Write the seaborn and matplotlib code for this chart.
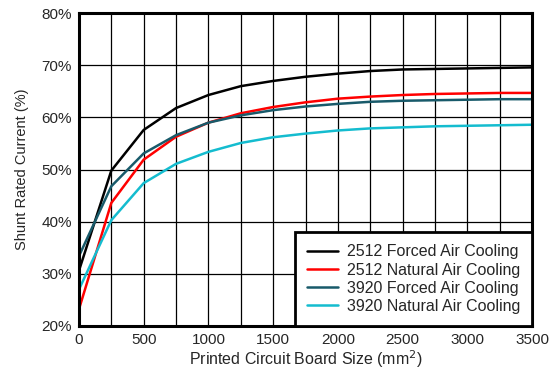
import matplotlib
matplotlib.use("Agg")
import matplotlib.pyplot as plt
import numpy as np
import pandas as pd
import seaborn as sns

# board size (mm^2)
board_size = [0, 250, 500, 750, 1000, 1250, 1500, 1750, 2000, 2250, 2500, 2750, 3000, 3250, 3500]

forced_2512 = [30.6, 49.8, 57.6, 61.8, 64.3, 66.0, 67.0, 67.8, 68.4, 68.9, 69.2, 69.3, 69.4, 69.5, 69.6]
natural_2512 = [23.2, 43.6, 51.9, 56.3, 59.0, 60.8, 62.0, 62.9, 63.6, 64.0, 64.3, 64.5, 64.6, 64.7, 64.7]
forced_3920 = [33.4, 46.8, 53.1, 56.6, 59.0, 60.4, 61.4, 62.1, 62.6, 63.0, 63.2, 63.3, 63.4, 63.5, 63.5]
natural_3920 = [27.0, 40.3, 47.4, 51.1, 53.4, 55.1, 56.2, 56.9, 57.5, 57.9, 58.1, 58.3, 58.4, 58.5, 58.6]

labels = ["2512 Forced Air Cooling", "2512 Natural Air Cooling",
          "3920 Forced Air Cooling", "3920 Natural Air Cooling"]
colors = ["#000000", "#FF0000", "#185A6A", "#14BCCF"]

frames = []
for lab, vals in zip(labels, [forced_2512, natural_2512, forced_3920, natural_3920]):
    frames.append(pd.DataFrame({"size": board_size, "current": vals, "series": lab}))
df = pd.concat(frames, ignore_index=True)

sns.set_style("white")
plt.rcParams["font.family"] = ["Liberation Sans", "DejaVu Sans"]

fig = plt.figure(figsize=(5.52, 3.76), dpi=100)
ax = fig.add_axes([0.143, 0.133, 0.821, 0.832])

# grid first so lines go on top
for xv in np.arange(250, 3500, 250):
    ax.axvline(xv, color="black", lw=0.9, zorder=1)
for yv in np.arange(30, 80, 10):
    ax.axhline(yv, color="black", lw=0.9, zorder=1)

sns.lineplot(data=df, x="size", y="current", hue="series", hue_order=labels,
             palette=colors, linewidth=1.8, ax=ax, zorder=3)

ax.set_xlim(0, 3500)
ax.set_ylim(20, 80)
ax.set_xticks(np.arange(0, 3501, 500))
ax.set_yticks(np.arange(20, 81, 10))
ax.set_yticklabels([f"{v}%" for v in range(20, 81, 10)])
ax.tick_params(axis="both", labelsize=11, length=0, pad=5)
ax.set_xlabel("Printed Circuit Board Size (mm$^2$)", fontsize=11.5, labelpad=1)
ax.set_ylabel("Shunt Rated Current (%)", fontsize=10.5, labelpad=9)

for sp in ax.spines.values():
    sp.set_color("black")
    sp.set_linewidth(2.2)
    sp.set_zorder(5)

leg = ax.legend(loc="lower right", fontsize=11.5, frameon=True, fancybox=False,
                framealpha=1, edgecolor="black", borderaxespad=0,
                handlelength=1.95, handletextpad=0.55, labelspacing=0.2,
                borderpad=0.75)
leg.get_frame().set_linewidth(2.0)
leg.set_zorder(6)
leg.set_title(None)

fig.savefig("out.png", dpi=100)
